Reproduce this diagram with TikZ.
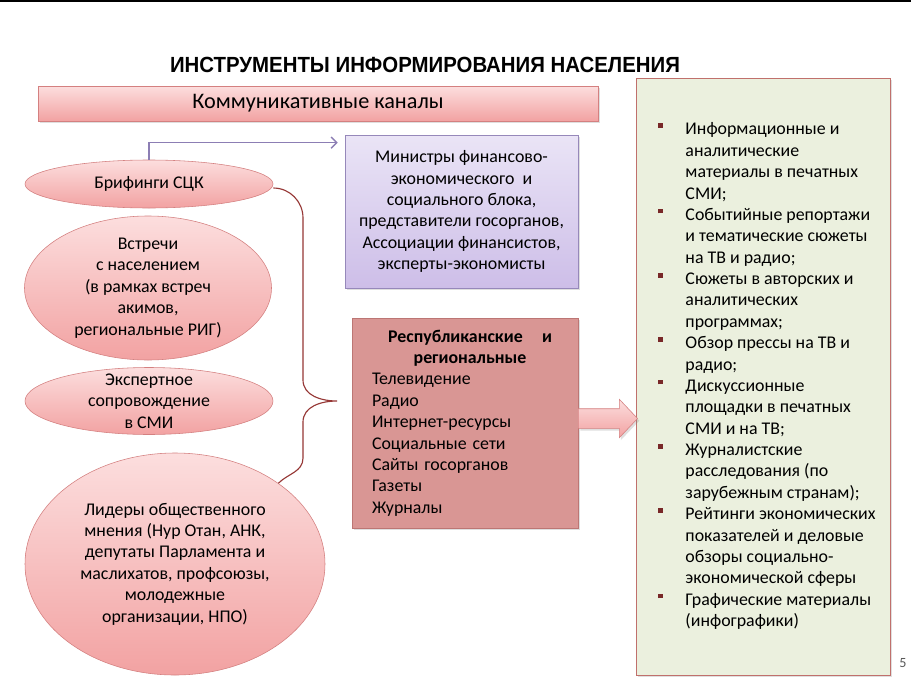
\documentclass[tikz,border=0pt]{standalone}
\usepackage{fontspec}
\setmainfont{Carlito}
\newfontfamily\titlefont{Liberation Sans}
\usepackage{xcolor}
\usepackage{tikz}
\usetikzlibrary{positioning,arrows.meta,shapes.geometric,shapes.arrows,shadows,calc}

\newlength\px
\setlength\px{0.025cm}
\newcommand{\txtsize}{\fontsize{12.7}{15.2}\selectfont}

\definecolor{pinkL}{RGB}{252,222,222}
\definecolor{pinkD}{RGB}{242,162,162}
\definecolor{pinkEdge}{RGB}{212,128,128}
\definecolor{lilacL}{RGB}{234,228,246}
\definecolor{lilacD}{RGB}{205,190,232}
\definecolor{lilacEdge}{RGB}{150,136,186}
\definecolor{roseFill}{RGB}{217,150,148}
\definecolor{roseEdge}{RGB}{188,118,116}
\definecolor{sageFill}{RGB}{235,240,222}
\definecolor{sageEdge}{RGB}{192,112,108}
\definecolor{braceRed}{RGB}{150,55,53}
\definecolor{bulletRed}{RGB}{120,40,40}
\definecolor{linkPurple}{RGB}{140,126,180}
\definecolor{pageGray}{RGB}{89,89,89}

\newcommand{\sq}{\raisebox{7\px}{\textcolor{bulletRed}{\rule{4.5\px}{4.5\px}}}}

\tikzset{
softshadow/.style={
drop shadow={shadow xshift=1.2pt,shadow yshift=-1.6pt,opacity=0.25}
},
channelbar/.style={
draw=pinkEdge,
thin,
top color=pinkL,
bottom color=pinkD,
minimum width=560\px,
minimum height=35\px,
font=\fontsize{15.8}{18}\selectfont,
softshadow
},
blob/.style={
ellipse,
draw=pinkEdge,
thin,
top color=pinkL,
bottom color=pinkD,
inner sep=0pt,
align=center,
font=\txtsize
},
minsbox/.style={
draw=lilacEdge,
thin,
top color=lilacL,
bottom color=lilacD,
minimum width=233\px,
minimum height=153\px,
align=center,
font=\txtsize,
softshadow
},
newsbox/.style={
draw=roseEdge,
thin,
fill=roseFill,
minimum width=226\px,
minimum height=210\px,
text width=186\px,
inner xsep=20\px,
align=left,
font=\txtsize,
softshadow
},
toolbox/.style={
draw=sageEdge,
thin,
fill=sageFill,
minimum width=254\px,
minimum height=597\px,
font=\txtsize,
softshadow
},
fatarrow/.style={
single arrow,
draw=pinkEdge,
thin,
top color=pinkL,
bottom color=pinkD,
minimum height=59\px,
inner xsep=0pt,
inner ysep=9.5\px,
single arrow head extend=9.5\px,
single arrow tip angle=93,
single arrow head indent=0pt,
softshadow
},
link/.style={
draw=linkPurple,
line width=1pt,
-{Straight Barb[length=4pt,width=8pt]}
},
brace/.style={
draw=braceRed,
line width=0.8pt
}
}

\begin{document}
\begin{tikzpicture}[x=\px,y=-\px]
\useasboundingbox (0,0) rectangle (911,690);
\fill[white] (0,0) rectangle (911,690);
\fill[black] (0,0) rectangle (911,2.5);

\node[font={\titlefont\bfseries\fontsize{15.6}{18}\selectfont}] (title) at (425,65) {\scalebox{0.93}[1]{ИНСТРУМЕНТЫ ИНФОРМИРОВАНИЯ НАСЕЛЕНИЯ}};
\node[channelbar] (chan) at (318,103.5) {Коммуникативные каналы};

% left column
\node[blob,minimum width=248\px,minimum height=48\px] (brief) at (149,184) {Брифинги СЦК};
\node[blob,minimum width=247\px,minimum height=144\px,inner ysep=-3pt] (meet) at (148,288) {Встречи\\с населением\\(в рамках встреч\\акимов,\\региональные РИГ)};
\node[blob,minimum width=248\px,minimum height=67\px,inner ysep=-5.5pt] (expert) at (149,401) {Экспертное\\сопровождение\\в СМИ};
\node[blob,minimum width=300\px,minimum height=222\px] (leaders) at (175,564) {Лидеры общественного\\мнения (Нур Отан, АНК,\\депутаты Парламента и\\маслихатов, профсоюзы,\\молодежные\\организации, НПО)};

% middle column
\node[minsbox] (mins) at (461.5,211.5) {Министры финансово-\\экономического~ и\\социального блока,\\представители госорганов,\\Ассоциации финансистов,\\эксперты-экономисты};
\node[newsbox] (news) at (465,423) {\hspace*{16\px}\makebox[164\px]{\bfseries Республиканские\hfill и}\\
\hspace*{10\px}\makebox[176\px]{\bfseries региональные}\\
Телевидение\\
Радио\\
Интернет-ресурсы\\
Социальные сети\\
Сайты госорганов\\
Газеты\\
Журналы};

% right column
\node[toolbox] (tools) at (763,376.5) {\hspace*{8\px}\begin{tabular}{@{}p{27\px}@{}l@{}}
\sq & Информационные и\\
 & аналитические\\
 & материалы в печатных\\
 & СМИ;\\
\sq & Событийные репортажи\\
 & и тематические сюжеты\\
 & на ТВ и радио;\\
\sq & Сюжеты в авторских и\\
 & аналитических\\
 & программах;\\
\sq & Обзор прессы на ТВ и\\
 & радио;\\
\sq & Дискуссионные\\
 & площадки в печатных\\
 & СМИ и на ТВ;\\
\sq & Журналистские\\
 & расследования (по\\
 & зарубежным странам);\\
\sq & Рейтинги экономических\\
 & показателей и деловые\\
 & обзоры социально-\\
 & экономической сферы\\
\sq & Графические материалы\\
 & (инфографики)
\end{tabular}};

\node[fatarrow,anchor=west] (push) at ($(news.east)+(0,-4.5)$) {};
\node[font=\fontsize{10}{12}\selectfont,text=pageGray] (page) at (903,663) {5};

% connectors
\draw[link] (brief.north) |- ([xshift=-7\px,yshift=-8\px]mins.north west);
\draw[brace] ([yshift=-4\px]brief.east) to[out=0,in=90] (303,218) -- (303,380)
  to[out=-90,in=180] (337,401) to[out=180,in=90] (303,422) -- (303,458)
  to[out=-90,in=45] (leaders.38);
\end{tikzpicture}
\end{document}
